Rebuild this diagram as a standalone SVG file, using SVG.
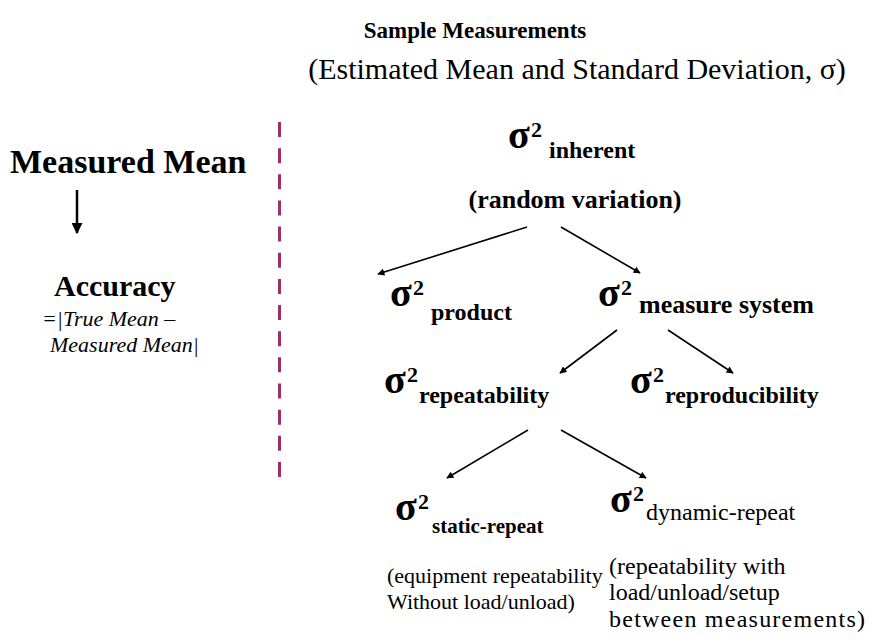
<svg xmlns="http://www.w3.org/2000/svg" width="874" height="644" viewBox="0 0 874 644" font-family="'Liberation Serif','Times New Roman',serif">
<defs>
<style>
text{font-family:"Liberation Serif","Times New Roman",serif;fill:#000}
.b{font-weight:bold}
.sig{font-weight:bold;font-size:40px}
.sup{font-weight:bold;font-size:22px}
.sub{font-weight:bold}
.conn{stroke:#000;stroke-width:1.6;fill:none;marker-end:url(#ah)}
</style>
<marker id="ah" viewBox="0 0 10 10" refX="9" refY="5" markerWidth="8" markerHeight="7" markerUnits="userSpaceOnUse" orient="auto">
<path d="M0,0 L10,5 L0,10 z" fill="#000"/>
</marker>
<marker id="ah2" viewBox="0 0 10 10" refX="9" refY="5" markerWidth="11" markerHeight="11" markerUnits="userSpaceOnUse" orient="auto">
<path d="M0,0 L10,5 L0,10 z" fill="#000"/>
</marker>
</defs>
<rect width="874" height="644" fill="#fff"/>

<g id="title">
<text class="b" x="475" y="38" font-size="23" text-anchor="middle">Sample Measurements</text>
<text x="577" y="79" font-size="30" text-anchor="middle">(Estimated Mean and Standard Deviation, σ)</text>
</g>

<g id="divider">
<line x1="279.5" y1="122" x2="279.5" y2="478" stroke="#9e2f62" stroke-width="3" stroke-dasharray="15 11.15"/>
</g>

<g id="measured-mean">
<text class="b" x="10" y="173" font-size="34">Measured Mean</text>
</g>

<g id="accuracy">
<text class="b" x="54" y="296" font-size="30">Accuracy</text>
<text x="42" y="326" font-size="22" font-style="italic">=|True Mean –</text>
<text x="50" y="352" font-size="22" font-style="italic">Measured Mean|</text>
</g>

<g id="inherent">
<text class="sig" x="508" y="148">σ</text>
<text class="sup" x="531" y="137">2</text>
<text class="sub" x="549" y="158" font-size="24">inherent</text>
<text class="b" x="575" y="208" font-size="26" text-anchor="middle">(random variation)</text>
</g>

<g id="product">
<text class="sig" x="390" y="306">σ</text>
<text class="sup" x="413" y="295">2</text>
<text class="sub" x="431" y="320" font-size="24">product</text>
</g>

<g id="measure-system">
<text class="sig" x="598" y="306">σ</text>
<text class="sup" x="621" y="295">2</text>
<text class="sub" x="639" y="313" font-size="26">measure system</text>
</g>

<g id="repeatability">
<text class="sig" x="384" y="393">σ</text>
<text class="sup" x="407" y="382">2</text>
<text class="sub" x="419" y="403" font-size="24">repeatability</text>
</g>

<g id="reproducibility">
<text class="sig" x="630" y="393">σ</text>
<text class="sup" x="653" y="382">2</text>
<text class="sub" x="665" y="403" font-size="24">reproducibility</text>
</g>

<g id="static-repeat">
<text class="sig" x="395" y="520">σ</text>
<text class="sup" x="418" y="509">2</text>
<text class="sub" x="432" y="533" font-size="21">static-repeat</text>
<text x="387" y="583" font-size="22">(equipment repeatability</text>
<text x="387" y="609" font-size="22">Without load/unload)</text>
</g>

<g id="dynamic-repeat">
<text class="sig" x="610" y="512">σ</text>
<text class="sup" x="633" y="501">2</text>
<text x="646" y="520" font-size="24">dynamic-repeat</text>
<text x="609" y="574" font-size="24">(repeatability with</text>
<text x="609" y="600" font-size="24">load/unload/setup</text>
<text x="609" y="627" font-size="24" textLength="256" lengthAdjust="spacing">between measurements)</text>
</g>

<g id="connectors">
<line x1="77" y1="190" x2="77" y2="233" stroke="#000" stroke-width="2.5" marker-end="url(#ah2)"/>
<line class="conn" x1="527" y1="227" x2="378" y2="274"/>
<line class="conn" x1="561" y1="227" x2="640" y2="273"/>
<line class="conn" x1="617" y1="330" x2="560" y2="373"/>
<line class="conn" x1="668" y1="330" x2="733" y2="373"/>
<line class="conn" x1="528" y1="430" x2="447" y2="478"/>
<line class="conn" x1="561" y1="430" x2="646" y2="478"/>
</g>
</svg>
